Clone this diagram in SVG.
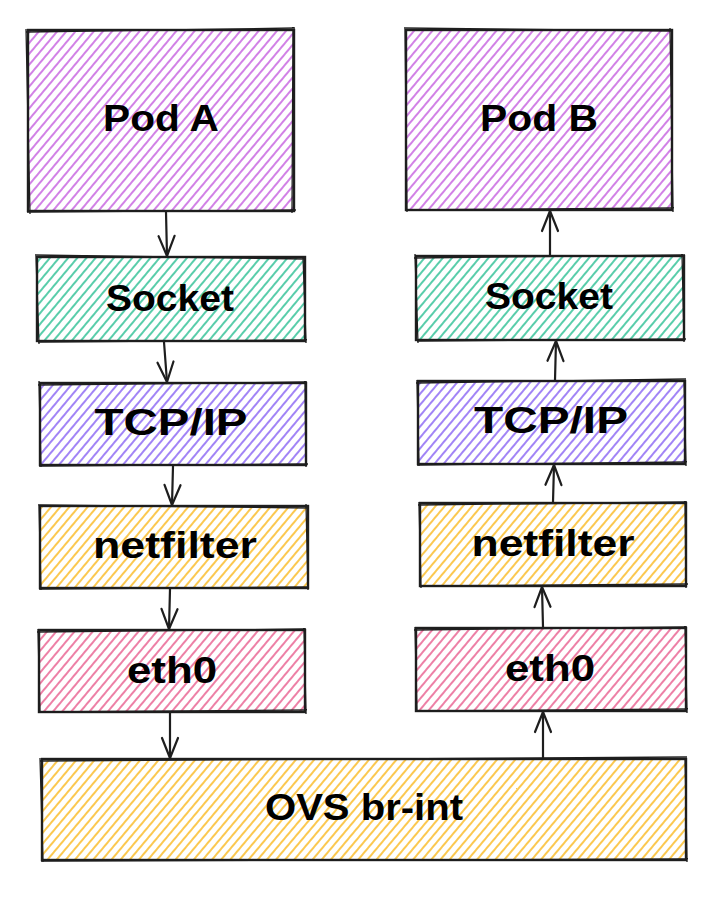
<svg xmlns="http://www.w3.org/2000/svg" width="716" height="898" viewBox="0 0 716 898">
  <defs>
    <pattern id="h-purple" patternUnits="userSpaceOnUse" width="7" height="10" patternTransform="rotate(40)">
      <line x1="1" y1="0" x2="1" y2="10" stroke="#be4bdb" stroke-width="1.4"/>
    </pattern>
    <pattern id="h-green" patternUnits="userSpaceOnUse" width="7" height="10" patternTransform="rotate(40)">
      <line x1="1" y1="0" x2="1" y2="10" stroke="#12b886" stroke-width="1.4"/>
    </pattern>
    <pattern id="h-violet" patternUnits="userSpaceOnUse" width="7" height="10" patternTransform="rotate(40)">
      <line x1="1" y1="0" x2="1" y2="10" stroke="#7950f2" stroke-width="1.4"/>
    </pattern>
    <pattern id="h-yellow" patternUnits="userSpaceOnUse" width="7" height="10" patternTransform="rotate(40)">
      <line x1="1" y1="0" x2="1" y2="10" stroke="#fab005" stroke-width="1.4"/>
    </pattern>
    <pattern id="h-pink" patternUnits="userSpaceOnUse" width="7" height="10" patternTransform="rotate(40)">
      <line x1="1" y1="0" x2="1" y2="10" stroke="#e64980" stroke-width="1.4"/>
    </pattern>
    <marker id="arrow" markerUnits="userSpaceOnUse" markerWidth="26" markerHeight="22" viewBox="-23 -11 26 22" refX="0" refY="0" orient="auto">
      <path d="M -20 -8 L 0 0 L -20 8" fill="none" stroke="#1e1e1e" stroke-width="2.2" stroke-linecap="round" stroke-linejoin="round"/>
    </marker>
  </defs>
  <style>
    .box { stroke: #1e1e1e; stroke-width: 2.4; }
    .sk { fill: none; stroke: #1e1e1e; stroke-width: 1.3; }
    .lbl { font-family: "Liberation Sans", Arial, sans-serif; font-size: 36px; font-weight: bold; fill: #000000; text-anchor: middle; }
    .conn line { stroke: #1e1e1e; stroke-width: 2.2; stroke-linecap: round; }
  </style>
  <rect width="716" height="898" fill="#ffffff"/>

  <g id="podA">
    <rect class="box" x="28" y="30" width="266" height="181" fill="url(#h-purple)"/>
    <path class="sk" d="M 26 32 L 295 28 M 293 27 L 292 213 M 296 210 L 27 212 M 30 214 L 26 29"/>
    <text class="lbl" x="161" y="131" textLength="116" lengthAdjust="spacingAndGlyphs">Pod A</text>
  </g>
  <g id="podB">
    <rect class="box" x="406" y="30" width="266" height="180" fill="url(#h-purple)"/>
    <path class="sk" d="M 404 28 L 673 31 M 670 28 L 673 212 M 674 208 L 405 210 M 407 212 L 405 28"/>
    <text class="lbl" x="539" y="131" textLength="118" lengthAdjust="spacingAndGlyphs">Pod B</text>
  </g>
  <g id="socketA">
    <rect class="box" x="37" y="257" width="268" height="84" fill="url(#h-green)"/>
    <path class="sk" d="M 35 255 L 306 259 M 303 256 L 306 343 M 307 340 L 38 342 M 39 344 L 36 256"/>
    <text class="lbl" x="170" y="311" textLength="128" lengthAdjust="spacingAndGlyphs">Socket</text>
  </g>
  <g id="socketB">
    <rect class="box" x="416" y="256" width="268" height="84" fill="url(#h-green)"/>
    <path class="sk" d="M 414 258 L 685 255 M 682 254 L 684 342 M 686 339 L 417 341 M 418 343 L 415 254"/>
    <text class="lbl" x="549" y="309" textLength="128" lengthAdjust="spacingAndGlyphs">Socket</text>
  </g>
  <g id="tcpA">
    <rect class="box" x="40" y="383" width="266" height="82" fill="url(#h-violet)"/>
    <path class="sk" d="M 38 385 L 307 382 M 305 381 L 306 467 M 308 464 L 39 466 M 41 467 L 39 381"/>
    <text class="lbl" x="171" y="435" textLength="153" lengthAdjust="spacingAndGlyphs">TCP/IP</text>
  </g>
  <g id="tcpB">
    <rect class="box" x="418" y="381" width="267" height="83" fill="url(#h-violet)"/>
    <path class="sk" d="M 416 383 L 686 379 M 684 380 L 686 466 M 687 462 L 417 465 M 419 466 L 417 380"/>
    <text class="lbl" x="551" y="433" textLength="154" lengthAdjust="spacingAndGlyphs">TCP/IP</text>
  </g>
  <g id="netfilterA">
    <rect class="box" x="40" y="506" width="268" height="82" fill="url(#h-yellow)"/>
    <path class="sk" d="M 38 505 L 309 508 M 306 504 L 308 590 M 309 587 L 39 589 M 41 590 L 39 505"/>
    <text class="lbl" x="175" y="558" textLength="164" lengthAdjust="spacingAndGlyphs">netfilter</text>
  </g>
  <g id="netfilterB">
    <rect class="box" x="420" y="503" width="266" height="83" fill="url(#h-yellow)"/>
    <path class="sk" d="M 418 505 L 687 502 M 685 501 L 686 588 M 688 584 L 419 586 M 421 588 L 419 502"/>
    <text class="lbl" x="553" y="556" textLength="163" lengthAdjust="spacingAndGlyphs">netfilter</text>
  </g>
  <g id="eth0A">
    <rect class="box" x="39" y="630" width="266" height="82" fill="url(#h-pink)"/>
    <path class="sk" d="M 37 632 L 306 629 M 304 628 L 306 714 M 307 710 L 38 712 M 40 713 L 38 629"/>
    <text class="lbl" x="172" y="683" textLength="90" lengthAdjust="spacingAndGlyphs">eth0</text>
  </g>
  <g id="eth0B">
    <rect class="box" x="416" y="628" width="270" height="83" fill="url(#h-pink)"/>
    <path class="sk" d="M 414 630 L 687 627 M 685 626 L 687 713 M 688 709 L 415 711 M 417 712 L 415 627"/>
    <text class="lbl" x="550" y="681" textLength="90" lengthAdjust="spacingAndGlyphs">eth0</text>
  </g>
  <g id="ovs">
    <rect class="box" x="42" y="759" width="644" height="101" fill="url(#h-yellow)"/>
    <path class="sk" d="M 40 761 L 687 757 M 685 757 L 687 862 M 688 859 L 41 861 M 43 862 L 40 758"/>
    <text class="lbl" x="364" y="820" textLength="198" lengthAdjust="spacingAndGlyphs">OVS br-int</text>
  </g>

  <g id="connectors" class="conn">
    <line x1="166" y1="212" x2="167" y2="256" marker-end="url(#arrow)"/>
    <line x1="164" y1="342" x2="167" y2="382" marker-end="url(#arrow)"/>
    <line x1="173" y1="466" x2="172" y2="505" marker-end="url(#arrow)"/>
    <line x1="170" y1="589" x2="169" y2="629" marker-end="url(#arrow)"/>
    <line x1="170" y1="713" x2="170" y2="758" marker-end="url(#arrow)"/>
    <line x1="543" y1="758" x2="543" y2="712" marker-end="url(#arrow)"/>
    <line x1="543" y1="627" x2="542" y2="587" marker-end="url(#arrow)"/>
    <line x1="553" y1="502" x2="554" y2="465" marker-end="url(#arrow)"/>
    <line x1="555" y1="380" x2="556" y2="341" marker-end="url(#arrow)"/>
    <line x1="550" y1="255" x2="550" y2="211" marker-end="url(#arrow)"/>
  </g>
</svg>
